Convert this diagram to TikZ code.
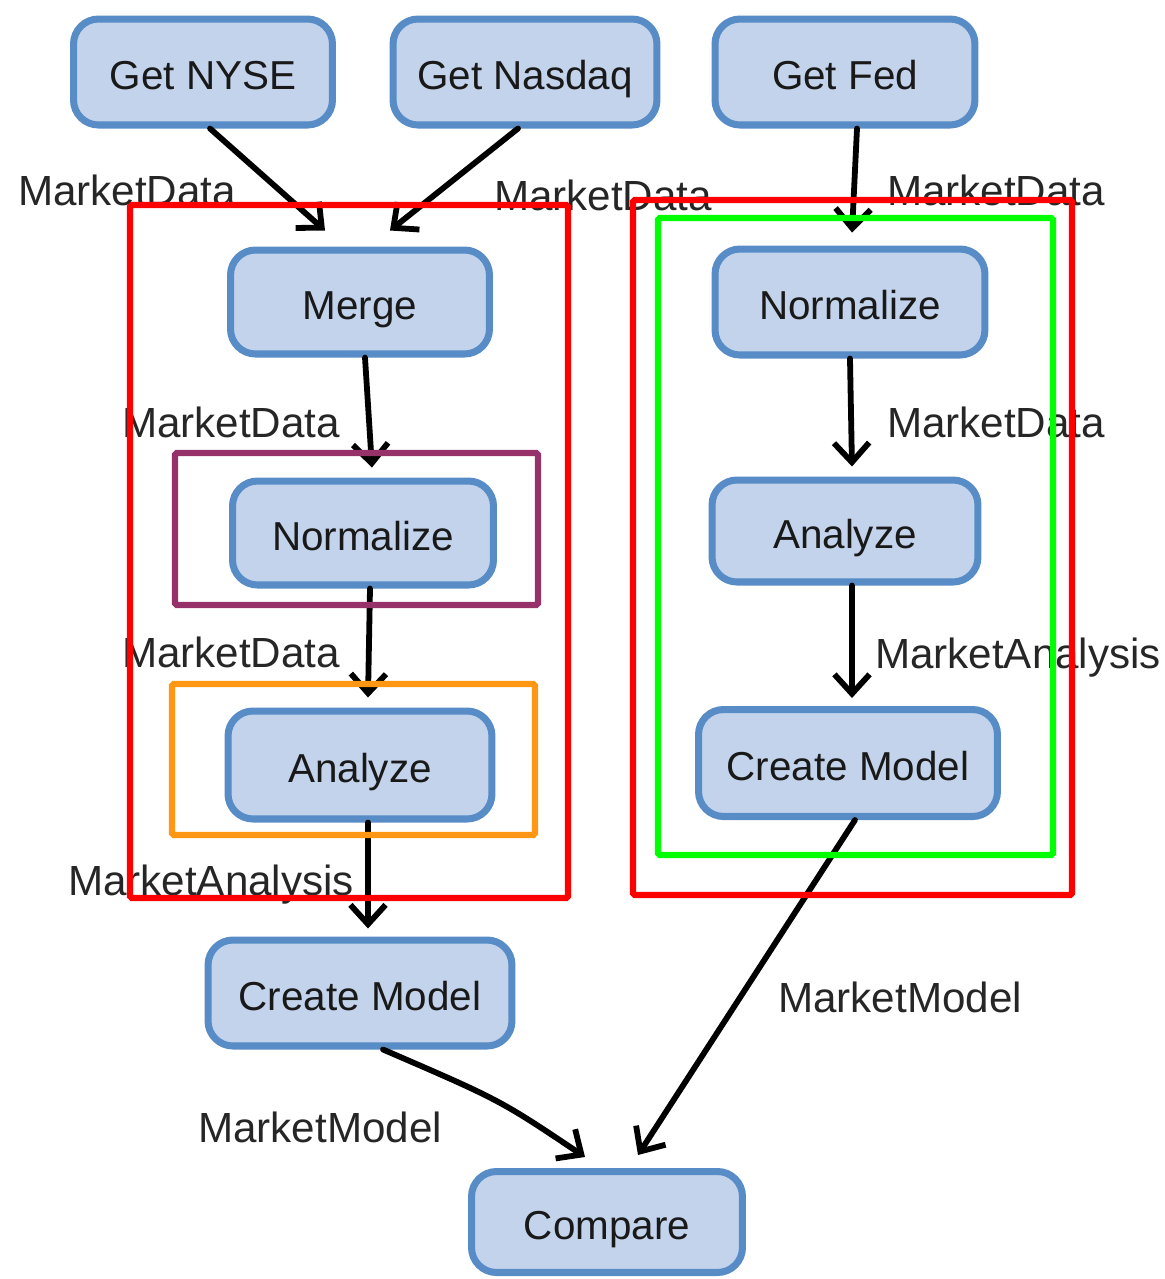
\documentclass[tikz,border=0pt]{standalone}
\usepackage{fontspec}
\setmainfont{Liberation Sans}
\usetikzlibrary{arrows.meta}
\definecolor{boxfill}{RGB}{194,211,235}
\definecolor{boxline}{RGB}{88,140,198}
\definecolor{grpred}{RGB}{255,0,0}
\definecolor{grpgreen}{RGB}{0,255,0}
\definecolor{grppurple}{RGB}{150,50,105}
\definecolor{grporange}{RGB}{255,150,20}
\begin{document}
\begin{tikzpicture}[x=0.02cm,y=-0.02cm,
  task/.style={draw=boxline, fill=boxfill, line width=4pt, rounded corners=0.5cm,
    font=\fontsize{23}{26}\selectfont, text=black!90, inner sep=0pt,
    text height=20pt, text depth=0pt, minimum height=2.12cm},
  flow/.style={line width=3.3pt, line cap=round, line join=round,
    -{Straight Barb[length=11pt,width=20pt,line width=3.3pt]}},
  lbl/.style={font=\fontsize{24}{28}\selectfont, anchor=base, text=black!85, inner sep=0pt},
  group/.style={line width=3.6pt, rounded corners=1pt}]
  \useasboundingbox (0,0) rectangle (1165,1279);

  % sources
  \node[task, minimum width=5.18cm] (nyse)   at (203,72) {Get NYSE};
  \node[task, minimum width=5.28cm] (nasdaq) at (525,72) {Get Nasdaq};
  \node[task, minimum width=5.20cm] (fed)    at (845,72) {Get Fed};

  % left pipeline
  \node[task, minimum width=5.18cm, minimum height=2.08cm] (merge) at (360,302) {Merge};
  \node[task, minimum width=5.22cm, minimum height=2.08cm] (normL) at (363,533) {Normalize};
  \node[task, minimum width=5.28cm, minimum height=2.16cm] (anaL)  at (360,765) {Analyze};
  \node[task, minimum width=6.08cm, minimum height=2.12cm] (modL)  at (360,993) {Create Model};

  % right pipeline
  \node[task, minimum width=5.40cm, minimum height=2.12cm] (normR) at (850,302) {Normalize};
  \node[task, minimum width=5.32cm, minimum height=2.04cm] (anaR)  at (845,531) {Analyze};
  \node[task, minimum width=5.98cm, minimum height=2.14cm] (modR)  at (848,763) {Create Model};

  % sink
  \node[task, minimum width=5.42cm, minimum height=2.02cm] (cmp) at (607,1222) {Compare};

  % connectors
  \draw[flow] ([xshift=0.14cm]nyse.south)   -- ([xshift=-0.70cm,yshift=0.32cm]merge.north);
  \draw[flow] ([xshift=-0.14cm]nasdaq.south) -- ([xshift=0.60cm,yshift=0.32cm]merge.north);
  \draw[flow] ([xshift=0.24cm]fed.south)    -- ([xshift=0.04cm,yshift=0.26cm]normR.north);
  \draw[flow] ([xshift=0.10cm]merge.south)  -- ([xshift=0.18cm,yshift=0.20cm]normL.north);
  \draw[flow] ([xshift=0.14cm]normL.south)  -- ([xshift=0.16cm,yshift=0.20cm]anaL.north);
  \draw[flow] ([xshift=0.16cm]anaL.south)   -- ([xshift=0.16cm,yshift=0.16cm]modL.north);
  \draw[flow] ([xshift=0.00cm]normR.south)  -- ([xshift=0.14cm,yshift=0.20cm]anaR.north);
  \draw[flow] ([xshift=0.14cm]anaR.south)   -- ([xshift=0.08cm,yshift=0.16cm]modR.north);
  \draw[flow] ([xshift=0.46cm]modL.south) .. controls (500,1100) .. ([xshift=-0.44cm,yshift=0.22cm]cmp.north);
  \draw[flow] ([xshift=0.14cm]modR.south)   -- ([xshift=0.62cm,yshift=0.26cm]cmp.north);

  % data labels
  \node[lbl] (l1)  at (127,205)  {MarketData};
  \node[lbl] (l2)  at (603,210)  {MarketData};
  \node[lbl] (l3)  at (996,205)  {MarketData};
  \node[lbl] (l4)  at (231,437)  {MarketData};
  \node[lbl] (l5)  at (231,667)  {MarketData};
  \node[lbl] (l6)  at (211,895)  {MarketAnalysis};
  \node[lbl] (l7)  at (996,437)  {MarketData};
  \node[lbl] (l8)  at (1018,668) {MarketAnalysis};
  \node[lbl] (l9)  at (900,1012) {MarketModel};
  \node[lbl] (l10) at (320,1142) {MarketModel};

  % grouping frames
  \draw[group, grpred]    (130,205) rectangle (568,898);
  \draw[group, grpred]    (633,200) rectangle (1072,895);
  \draw[group, grpgreen]  (658,218) rectangle (1053,855);
  \draw[group, grppurple] (175,453) rectangle (538,605);
  \draw[group, grporange] (172,684) rectangle (535,835);
\end{tikzpicture}
\end{document}
